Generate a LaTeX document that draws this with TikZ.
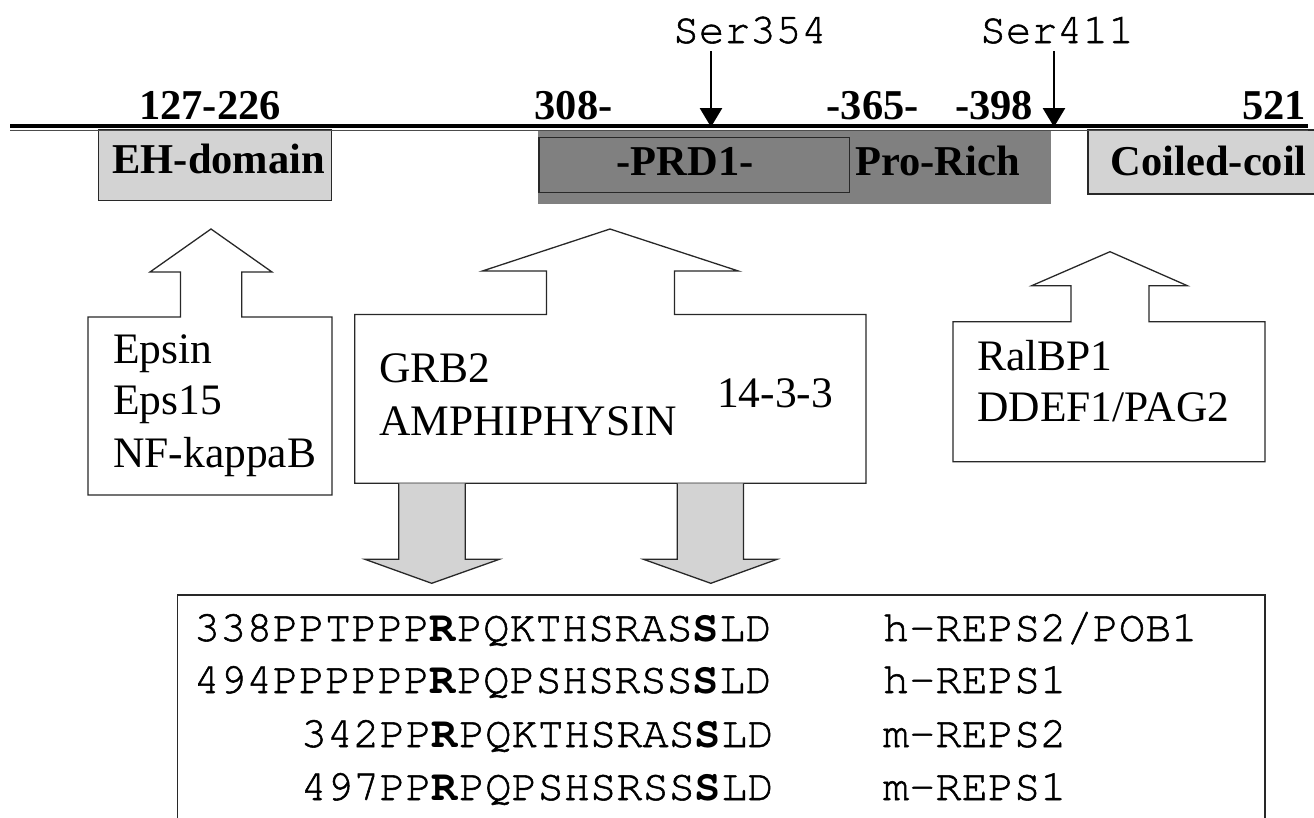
\documentclass[tikz,border=0pt]{standalone}
\usepackage{fontspec}
\setmainfont{Liberation Serif}
\setmonofont{texgyrecursor}[Extension=.otf, UprightFont=*-regular, BoldFont=*-bold,
  UprightFeatures={FakeBold=1.2}]
\usetikzlibrary{arrows.meta}
\definecolor{boxlight}{RGB}{211,211,211}
\definecolor{boxdark}{RGB}{128,128,128}
\definecolor{edge}{RGB}{40,40,40}
\begin{document}
\begin{tikzpicture}[x=1pt,y=-1pt,
  boldlbl/.style={font=\fontsize{42.5}{51}\selectfont\bfseries, inner sep=0pt, anchor=base west},
  sitelbl/.style={font=\fontsize{42.7}{51}\selectfont\ttfamily, inner sep=0pt, anchor=base west},
  partner/.style={font=\fontsize{43.5}{52}\selectfont, inner sep=0pt, anchor=base west},
  seqtext/.style={font=\fontsize{43.7}{52}\selectfont\ttfamily, inner sep=0pt, anchor=base west},
  outline/.style={draw=edge, line width=1.3pt, line join=miter},
  grayarrow/.style={outline, fill=boxlight},
  domainbox/.style={draw=edge, line width=1.2pt, fill=boxlight},
  phospho/.style={line width=2.8pt, -{Triangle[length=19pt,width=22pt]}}
]
\useasboundingbox (0,0) rectangle (1314,817);

% ---- domains along the protein ----
\fill[boxdark] (537.5,130) rectangle (1050.5,203.5);
\draw[edge, line width=1.2pt] (539,137.3) rectangle (849.7,192.7);
\draw[domainbox] (98.7,130) rectangle (331.5,200.5);
\draw[domainbox] (1088,130) rectangle (1330,194);

% protein backbone (double rule)
\draw[line width=3.5pt] (10,125.8) -- (1308,125.8);
\draw[line width=1.2pt, black!70] (10,130.4) -- (1308,130.4);

\node[boldlbl, anchor=base] (eh)  at (218.8,173.3) {EH-domain};
\node[boldlbl, anchor=base] (prd) at (685,175) {-PRD1-};
\node[boldlbl] (pro)  at (855,175) {Pro-Rich};
\node[boldlbl] (coil) at (1110.6,175) {Coiled-coil};

% residue numbers
\node[boldlbl] (r127) at (139,119) {127-226};
\node[boldlbl] (r308) at (534.5,119) {308-};
\node[boldlbl] (r365) at (826.6,119) {-365-};
\node[boldlbl] (r398) at (955,119) {-398};
\node[boldlbl, anchor=base east] (r521) at (1306,119) {521};

% phosphorylation sites
\node[sitelbl] (s354) at (673,43) {Ser354};
\node[sitelbl] (s411) at (980,43) {Ser411};
\coordinate (s354a) at (711,51);
\coordinate (s354b) at (711,127);
\coordinate (s411a) at (1054,51);
\coordinate (s411b) at (1054,127);
\draw[phospho] (s354a) -- (s354b);
\draw[phospho] (s411a) -- (s411b);

% ---- binding partners with block arrows ----
\draw[outline] (88,317) -- (180.5,317) -- (180.5,272) -- (150,272) -- (211,229)
  -- (272,272) -- (241.7,272) -- (241.7,317) -- (332,317) -- (332,495)
  -- (88,495) -- cycle;
\node[partner] (epsin) at (113,363) {Epsin};
\node[partner] (eps15) at (113,414) {Eps15};
\node[partner] (nfkb)  at (113,467) {NF-kappaB};

\draw[outline] (354.7,314.5) -- (546.4,314.5) -- (546.4,271) -- (482.4,271) -- (610,229)
  -- (738.4,271) -- (674.4,271) -- (674.4,314.5) -- (866,314.5) -- (866,483.3)
  -- (354.7,483.3) -- cycle;
\node[partner] (grb2) at (379,382) {GRB2};
\node[partner] (amph) at (379,435) {AMPHIPHYSIN};
\node[partner] (ywha) at (717,407) {14-3-3};

\draw[outline] (953,321.7) -- (1071,321.7) -- (1071,285.7) -- (1031.7,285.7) -- (1110,251.7)
  -- (1187.3,285.7) -- (1149,285.7) -- (1149,321.7) -- (1265,321.7) -- (1265,461.7)
  -- (953,461.7) -- cycle;
\node[partner] (ralbp) at (977,370) {RalBP1};
\node[partner] (ddef)  at (977,421) {DDEF1/PAG2};

% ---- grey arrows down to the motif alignment ----
\draw[grayarrow] (398.7,483.3) -- (398.7,559.3) -- (365,559.3) -- (431.7,583.3)
  -- (499.3,559.3) -- (465.3,559.3) -- (465.3,483.3);
\draw[grayarrow] (677.3,483.3) -- (677.3,559.3) -- (643.5,559.3) -- (710.8,583.3)
  -- (777,559.3) -- (743.5,559.3) -- (743.5,483.3);

% alignment box (runs off the bottom edge)
\draw[outline] (177.3,830) -- (177.3,595) -- (1265,595) -- (1265,830);

\node[seqtext] (q1) at (193.7,641) {338PPTPPP\textbf{R}PQKTHSRAS\textbf{S}LD};
\node[seqtext] (q2) at (193.7,693) {494PPPPPP\textbf{R}PQPSHSRSS\textbf{S}LD};
\node[seqtext] (q3) at (300.6,747) {342PP\textbf{R}PQKTHSRAS\textbf{S}LD};
\node[seqtext] (q4) at (300.6,800) {497PP\textbf{R}PQPSHSRSS\textbf{S}LD};
\node[seqtext] (n1) at (882.7,641) {h-REPS2/POB1};
\node[seqtext] (n2) at (882.7,693) {h-REPS1};
\node[seqtext] (n3) at (882.7,747) {m-REPS2};
\node[seqtext] (n4) at (882.7,800) {m-REPS1};
\end{tikzpicture}
\end{document}
